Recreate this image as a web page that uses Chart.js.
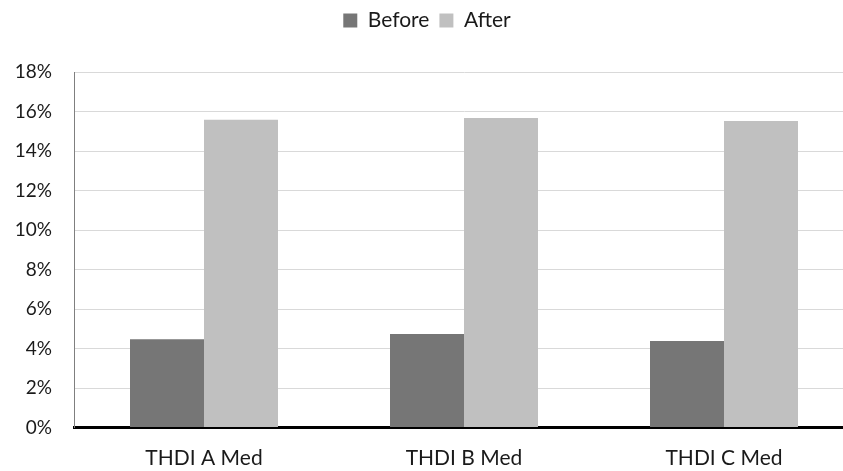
<!DOCTYPE html>
<html><head><meta charset="utf-8">
<script src="https://cdn.jsdelivr.net/npm/chart.js@4/dist/chart.umd.min.js"></script>
<style>html,body{margin:0;padding:0;overflow:hidden;background:#fff;width:843px;height:471px}</style>
</head><body>
<canvas id="c" width="884" height="471" style="width:884px;height:471px;display:block"></canvas>
<script>
const categories = ["THDI A Med", "THDI B Med", "THDI C Med"];
const seriesNames = ["Before", "After"];
const beforeValues = [4.47, 4.73, 4.38];
const afterValues = [15.58, 15.67, 15.52];
const yMin = 0, yMax = 18, yStep = 2;

const FONT = "Lato, 'Open Sans', sans-serif";
const legendGap = {
  id: 'legendGap',
  beforeInit(chart) {
    const lg = chart.legend;
    if (!lg) return;
    const orig = lg.fit;
    lg.fit = function () { orig.call(this); this.height += 31; };
  }
};
new Chart(document.getElementById('c'), {
  type: 'bar',
  data: {
    labels: categories,
    datasets: [
      {label: seriesNames[0], data: beforeValues, backgroundColor: '#767676', categoryPercentage: 0.5692, barPercentage: 1.0},
      {label: seriesNames[1], data: afterValues, backgroundColor: '#c0c0c0', categoryPercentage: 0.5692, barPercentage: 1.0}
    ]
  },
  plugins: [legendGap],
  options: {
    responsive: false,
    animation: false,
    devicePixelRatio: 1,
    layout: {padding: {left: 0, right: 30, top: 0, bottom: 0}},
    plugins: {
      legend: {
        position: 'top',
        labels: {boxWidth: 14, boxHeight: 14, color: '#1a1a1a', font: {family: FONT, size: 21}, padding: 10}
      },
      tooltip: {enabled: false}
    },
    scales: {
      x: {
        grid: {display: false},
        border: {color: '#000', width: 3},
        ticks: {color: '#1a1a1a', font: {family: FONT, size: 21}, padding: 10},
        afterFit: s => { s.height = 43.5; }
      },
      y: {
        min: yMin, max: yMax,
        ticks: {stepSize: yStep, color: '#1a1a1a', font: {family: FONT, size: 19}, padding: 22,
                callback: v => v + '%'},
        grid: {color: ctx => ctx.tick && ctx.tick.value === 0 ? 'rgba(0,0,0,0)' : '#d9d9d9', lineWidth: 1, drawTicks: false},
        border: {color: '#7f7f7f', width: 1},
        afterFit: s => { s.width = 74; }
      }
    }
  }
});
</script>
</body></html>
